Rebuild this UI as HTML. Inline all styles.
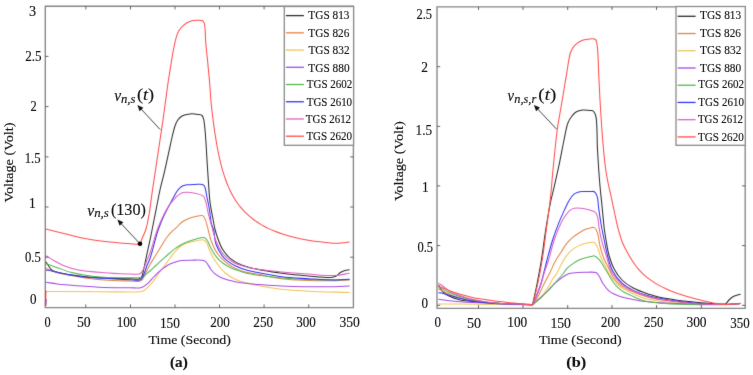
<!DOCTYPE html>
<html><head><meta charset="utf-8"><style>
html,body{margin:0;padding:0;background:#fff;}
svg{display:block;}
text{font-family:"Liberation Serif",serif;fill:#111;stroke:#111;stroke-width:0.15px;}
</style></head><body>
<svg width="753" height="375" viewBox="0 0 753 375">
<defs><filter id="bl" x="0" y="0" width="753" height="375" filterUnits="userSpaceOnUse" color-interpolation-filters="sRGB"><feConvolveMatrix order="3" kernelMatrix="0.01000 0.08000 0.01000 0.08000 0.64000 0.08000 0.01000 0.08000 0.01000" divisor="1" edgeMode="duplicate"/></filter><filter id="bt" x="0" y="0" width="753" height="375" filterUnits="userSpaceOnUse" color-interpolation-filters="sRGB"><feConvolveMatrix order="3" kernelMatrix="0.00160 0.03680 0.00160 0.03680 0.84640 0.03680 0.00160 0.03680 0.00160" divisor="1" edgeMode="duplicate"/></filter></defs>
<rect width="753" height="375" fill="#fff"/>
<g filter="url(#bl)">
<g fill="none" stroke-width="1.05" stroke-linejoin="round" stroke-linecap="round">
<path d="M46.00,262.10 C47.10,263.73 48.22,265.55 49.30,267.00 C50.22,268.23 50.57,269.36 52.00,270.30 C54.45,271.91 59.45,272.74 64.00,273.70 C69.78,274.92 77.32,275.78 84.00,276.50 C90.66,277.21 96.89,277.62 104.00,278.00 C112.09,278.43 123.58,278.63 130.00,278.80 C133.78,278.90 137.00,279.68 139.00,279.00 C140.19,278.60 140.79,278.07 141.50,277.00 C142.71,275.17 143.20,271.29 144.00,268.00 C144.95,264.08 145.74,259.47 146.70,255.00 C147.73,250.22 148.88,245.52 150.00,240.20 C151.31,234.00 152.76,226.23 154.00,220.00 C155.07,214.63 155.98,210.08 157.00,205.00 C158.05,199.75 159.01,194.34 160.20,189.00 C161.41,183.60 162.84,178.60 164.20,172.80 C165.77,166.13 167.59,157.58 169.00,151.20 C170.12,146.12 170.96,141.86 172.00,137.50 C172.96,133.49 173.90,129.10 175.00,126.00 C175.78,123.79 176.36,122.15 177.50,120.50 C178.67,118.81 180.11,117.09 182.00,116.00 C184.16,114.76 187.31,114.16 190.00,113.90 C192.65,113.64 195.81,114.03 198.00,114.40 C199.58,114.66 201.07,114.69 202.00,115.50 C202.92,116.30 203.15,117.55 203.60,119.20 C204.40,122.15 204.72,126.90 205.20,132.00 C205.91,139.52 206.45,151.45 207.00,160.00 C207.47,167.23 207.81,173.18 208.30,180.00 C208.81,187.16 209.15,195.27 210.00,202.00 C210.73,207.78 211.87,213.05 212.80,218.00 C213.60,222.29 214.30,226.45 215.20,230.00 C215.93,232.90 216.57,235.00 217.60,237.80 C218.86,241.23 220.29,245.55 222.40,249.00 C224.54,252.49 227.23,255.95 230.40,258.60 C233.62,261.30 237.59,263.32 241.60,265.00 C245.77,266.75 249.73,267.61 255.00,268.80 C262.34,270.45 272.79,272.10 281.70,273.30 C290.56,274.49 299.65,275.33 308.30,276.00 C316.50,276.64 327.69,277.90 332.30,277.30 C334.23,277.05 335.04,276.72 336.30,276.00 C337.72,275.19 338.83,273.42 340.30,272.50 C341.74,271.60 343.44,270.95 345.00,270.50 C346.44,270.08 347.87,270.03 349.30,269.80" stroke="#2e2e2e"/>
<path d="M46.00,268.30 C48.00,269.20 49.62,270.14 52.00,271.00 C55.28,272.18 59.46,273.29 64.00,274.30 C69.79,275.59 77.32,276.75 84.00,277.70 C90.65,278.65 96.89,279.45 104.00,280.00 C112.09,280.62 123.47,280.81 130.00,281.00 C133.95,281.12 137.27,281.76 139.50,281.20 C140.84,280.86 141.59,280.46 142.50,279.50 C143.87,278.06 144.79,274.91 146.00,272.50 C147.29,269.92 148.47,267.24 150.00,264.50 C151.72,261.43 154.05,258.04 155.90,255.00 C157.59,252.23 159.05,249.70 160.70,247.00 C162.41,244.20 164.14,241.08 166.00,238.50 C167.69,236.15 169.45,234.02 171.30,232.10 C173.03,230.31 174.93,228.97 176.70,227.30 C178.50,225.60 179.91,223.51 182.00,222.00 C184.28,220.36 187.28,219.01 190.00,218.00 C192.61,217.03 195.66,216.39 198.00,216.00 C199.79,215.70 201.59,215.00 202.80,215.60 C203.97,216.18 204.49,217.84 205.20,219.40 C206.17,221.52 206.75,224.37 207.60,227.40 C208.71,231.33 209.54,236.62 211.20,241.00 C212.87,245.42 214.88,250.03 217.60,253.80 C220.25,257.47 223.56,260.64 227.20,263.40 C230.99,266.27 235.10,268.78 240.00,270.60 C245.78,272.74 253.19,273.28 260.00,274.60 C267.08,275.98 272.82,277.69 281.70,278.70 C295.50,280.27 322.88,280.90 335.00,280.80 C341.28,280.75 344.53,280.27 349.30,280.00" stroke="#e48446"/>
<path d="M46.00,291.50 C64.00,291.57 83.40,291.65 100.00,291.70 C114.19,291.74 133.48,292.47 139.50,291.80 C141.32,291.60 142.00,291.42 143.00,291.00 C143.85,290.64 144.30,290.32 145.20,289.60 C146.97,288.18 150.11,285.12 152.40,282.40 C154.94,279.39 157.34,275.26 159.60,272.20 C161.50,269.63 163.23,267.59 165.00,265.20 C166.80,262.76 168.49,260.13 170.30,257.70 C172.06,255.33 173.82,252.82 175.70,250.80 C177.40,248.97 179.14,247.28 181.00,246.00 C182.69,244.83 184.17,244.09 186.30,243.30 C189.20,242.23 193.85,241.25 197.00,240.70 C199.45,240.27 201.91,239.42 203.60,240.00 C204.96,240.47 205.82,241.68 206.70,243.00 C207.83,244.70 208.28,247.39 209.30,249.70 C210.44,252.27 211.77,255.08 213.30,257.70 C214.89,260.42 216.71,263.16 218.70,265.70 C220.71,268.26 222.74,270.84 225.30,273.00 C228.03,275.30 231.73,277.52 234.70,279.00 C237.11,280.21 238.89,280.75 241.60,281.60 C245.31,282.76 249.74,283.91 255.00,285.00 C262.35,286.52 272.79,288.27 281.70,289.30 C290.55,290.33 298.47,290.69 308.30,291.20 C320.49,291.83 335.63,292.07 349.30,292.50" stroke="#f2c35a"/>
<path d="M46.00,282.30 C49.77,282.83 52.99,283.40 57.30,283.90 C63.01,284.56 70.15,285.15 77.30,285.70 C85.55,286.33 95.15,287.05 104.00,287.40 C112.72,287.74 123.06,287.87 130.00,287.80 C134.64,287.76 138.47,288.37 141.60,287.40 C144.05,286.64 145.62,285.25 147.60,283.60 C150.02,281.58 152.35,278.24 154.80,275.80 C157.15,273.46 159.65,271.09 162.00,269.20 C164.04,267.57 165.80,266.18 168.00,265.00 C170.34,263.75 173.35,262.76 175.70,262.00 C177.61,261.38 178.91,260.91 181.00,260.60 C183.93,260.16 188.14,260.25 191.70,260.20 C195.24,260.15 199.82,259.87 202.30,260.30 C203.70,260.54 204.65,260.80 205.50,261.40 C206.29,261.96 206.63,262.76 207.30,263.70 C208.28,265.09 209.46,267.33 210.70,269.00 C211.93,270.66 213.07,272.31 214.70,273.70 C216.53,275.25 218.93,276.61 221.30,277.70 C223.78,278.84 226.85,279.60 229.30,280.30 C231.35,280.88 232.70,281.25 235.00,281.70 C238.44,282.37 243.75,283.11 248.00,283.60 C252.07,284.07 255.41,284.27 260.00,284.60 C266.17,285.04 272.86,285.57 281.70,285.90 C295.54,286.42 322.88,286.91 335.00,286.70 C341.28,286.59 344.53,286.23 349.30,286.00" stroke="#a64ae2"/>
<path d="M46.00,263.70 C49.77,265.03 53.37,266.33 57.30,267.70 C61.57,269.19 66.20,271.08 70.70,272.30 C75.10,273.50 79.10,274.22 84.00,275.00 C89.97,275.95 96.88,276.82 104.00,277.30 C112.09,277.84 123.58,277.77 130.00,277.80 C133.78,277.82 136.65,277.99 139.00,277.70 C140.55,277.51 141.42,277.48 142.80,276.80 C144.93,275.76 147.71,272.99 150.00,271.00 C152.23,269.06 154.10,267.12 156.40,265.00 C159.05,262.56 161.95,259.88 165.00,257.20 C168.35,254.26 172.01,250.64 175.70,248.10 C179.12,245.74 182.69,243.88 186.30,242.30 C189.79,240.77 193.86,239.52 197.00,238.70 C199.38,238.08 201.86,237.36 203.40,237.50 C204.30,237.58 204.86,237.83 205.50,238.30 C206.29,238.88 206.90,239.85 207.60,241.00 C208.63,242.69 209.45,245.37 210.70,247.70 C212.17,250.43 213.96,253.72 216.00,256.30 C217.98,258.80 220.23,261.09 222.70,263.00 C225.14,264.89 228.41,266.58 230.70,267.70 C232.32,268.49 233.17,268.75 235.00,269.40 C238.15,270.52 243.72,272.46 248.00,273.50 C252.05,274.49 255.40,274.95 260.00,275.60 C266.16,276.46 272.86,277.26 281.70,277.90 C295.53,278.90 322.87,279.97 335.00,280.00 C341.28,280.01 344.53,279.67 349.30,279.50" stroke="#52b852"/>
<path d="M46.00,270.00 C48.00,270.33 49.66,270.54 52.00,271.00 C55.32,271.65 59.48,272.82 64.00,273.70 C69.81,274.83 77.31,276.23 84.00,277.00 C90.65,277.76 96.90,277.86 104.00,278.30 C112.10,278.80 123.82,279.43 130.00,279.80 C133.43,280.01 135.99,280.50 138.00,280.30 C139.25,280.18 140.12,280.19 141.00,279.50 C142.25,278.52 143.08,276.07 144.00,274.00 C145.11,271.51 145.95,268.18 147.00,265.50 C147.96,263.04 148.89,261.63 150.00,258.50 C152.11,252.55 155.18,239.07 157.50,232.00 C159.08,227.18 160.47,223.63 162.00,220.00 C163.31,216.89 164.63,214.23 166.00,211.50 C167.30,208.90 168.67,206.50 170.00,204.00 C171.33,201.50 172.75,198.78 174.00,196.50 C175.06,194.57 175.91,192.72 177.00,191.20 C177.94,189.89 178.94,188.73 180.00,187.80 C180.95,186.97 181.88,186.30 183.00,185.80 C184.20,185.27 185.42,185.03 187.00,184.80 C189.20,184.47 192.40,184.46 195.00,184.40 C197.46,184.34 200.59,183.89 202.20,184.40 C203.14,184.69 203.68,185.13 204.20,185.80 C204.81,186.59 205.02,187.66 205.40,189.00 C205.99,191.12 206.45,194.67 207.00,197.40 C207.52,200.00 208.13,202.51 208.60,205.00 C209.05,207.38 209.41,209.41 209.80,212.00 C210.28,215.21 210.47,219.60 211.20,222.80 C211.81,225.48 212.89,227.16 213.60,230.00 C214.57,233.91 214.35,239.66 216.00,244.20 C217.73,248.95 220.65,254.13 224.00,257.80 C227.13,261.22 231.19,263.66 235.20,265.80 C239.19,267.93 243.75,269.39 248.00,270.60 C252.02,271.75 255.41,272.14 260.00,273.00 C266.16,274.16 274.07,275.86 281.70,276.80 C290.09,277.83 299.42,278.17 308.30,278.70 C317.19,279.23 327.48,280.03 335.00,280.00 C340.51,279.98 344.53,279.47 349.30,279.20" stroke="#3434f6"/>
<path d="M46.50,256.00 C49.23,257.67 51.85,259.41 54.70,261.00 C57.67,262.65 60.56,264.32 64.00,265.70 C67.98,267.29 72.04,268.62 77.30,269.70 C84.61,271.20 95.15,271.98 104.00,272.70 C112.71,273.41 123.81,273.77 130.00,274.00 C133.43,274.13 136.00,274.56 138.00,274.20 C139.27,273.97 140.11,273.76 141.00,273.00 C142.20,271.98 143.08,269.91 144.00,268.00 C145.12,265.69 145.97,262.57 147.00,260.00 C147.97,257.58 148.88,256.03 150.00,253.00 C151.97,247.66 154.72,236.79 157.00,230.50 C158.69,225.83 160.37,222.07 162.00,218.50 C163.36,215.54 164.61,213.00 166.00,210.50 C167.28,208.19 168.58,205.91 170.00,204.00 C171.26,202.30 172.76,200.88 174.00,199.50 C175.07,198.31 176.07,197.07 177.00,196.20 C177.71,195.54 178.19,195.12 179.00,194.60 C180.08,193.91 181.63,193.00 183.00,192.60 C184.30,192.22 185.44,192.18 187.00,192.20 C189.21,192.23 192.43,192.65 195.00,193.20 C197.49,193.73 200.66,194.53 202.20,195.40 C203.07,195.89 203.50,196.28 204.00,197.00 C204.63,197.91 204.98,199.33 205.40,200.60 C205.86,201.98 206.20,203.30 206.60,205.00 C207.14,207.30 207.52,210.27 208.20,213.20 C209.00,216.66 210.06,220.31 211.20,224.40 C212.59,229.40 213.97,236.01 216.00,241.00 C217.80,245.43 219.69,249.51 222.40,253.00 C225.05,256.42 228.11,259.47 232.00,261.80 C236.44,264.46 243.00,266.10 248.00,267.40 C252.24,268.50 255.40,268.83 260.00,269.50 C266.16,270.39 274.09,271.26 281.70,272.00 C290.11,272.82 299.42,273.52 308.30,274.10 C317.19,274.68 327.49,275.88 335.00,275.50 C340.52,275.22 344.53,274.03 349.30,273.30" stroke="#e060c0"/>
<path d="M45.90,229.00 C52.57,230.67 59.08,232.35 65.90,234.00 C73.03,235.72 80.47,237.76 87.80,239.10 C95.07,240.42 102.53,241.23 109.70,242.00 C116.59,242.74 124.88,243.32 130.00,243.70 C133.11,243.93 135.67,244.28 137.50,244.20 C138.56,244.15 139.17,243.93 140.00,243.80 C141.00,241.37 142.01,238.95 143.00,236.50 C144.01,234.02 145.09,232.02 146.00,229.00 C147.29,224.71 148.32,218.71 149.30,213.00 C150.42,206.49 151.16,199.23 152.20,192.00 C153.31,184.26 154.60,176.00 155.80,168.00 C157.00,160.00 158.20,152.00 159.40,144.00 C160.60,136.00 161.91,127.64 163.00,120.00 C163.99,113.03 164.81,106.58 165.70,100.00 C166.57,93.59 167.61,85.55 168.30,81.00 C168.69,78.44 168.92,77.34 169.30,75.00 C169.84,71.69 170.56,66.94 171.20,63.00 C171.82,59.18 172.36,55.60 173.10,51.70 C173.90,47.49 174.81,42.33 175.90,38.60 C176.74,35.72 177.34,33.40 178.70,31.10 C180.11,28.72 182.28,26.27 184.30,24.60 C186.05,23.16 187.83,22.12 189.90,21.40 C192.13,20.63 195.04,20.36 197.30,20.30 C199.21,20.25 201.40,20.06 202.60,20.80 C203.56,21.40 203.92,22.23 204.40,23.70 C205.51,27.14 205.17,36.10 205.70,42.30 C206.23,48.53 207.04,55.22 207.60,61.00 C208.09,66.00 208.53,71.13 208.90,75.00 C209.16,77.73 209.35,79.07 209.60,82.00 C210.02,86.90 210.48,95.97 211.00,101.70 C211.40,106.14 211.84,109.63 212.30,113.50 C212.74,117.26 213.18,120.81 213.70,124.60 C214.24,128.60 214.84,132.78 215.50,136.90 C216.17,141.08 216.96,145.65 217.70,149.50 C218.33,152.79 218.93,155.65 219.60,158.60 C220.24,161.41 220.90,164.19 221.60,166.80 C222.24,169.21 222.91,171.49 223.60,173.70 C224.25,175.78 224.88,177.69 225.60,179.70 C226.34,181.76 227.17,183.93 228.00,185.90 C228.78,187.75 229.52,189.41 230.40,191.20 C231.34,193.10 232.41,195.14 233.50,197.00 C234.55,198.80 235.63,200.52 236.80,202.20 C237.97,203.88 239.18,205.50 240.50,207.10 C241.85,208.74 243.36,210.42 244.80,211.90 C246.13,213.27 247.45,214.50 248.80,215.70 C250.11,216.86 251.47,217.99 252.80,219.00 C254.04,219.94 255.28,220.77 256.50,221.60 C257.68,222.40 258.78,223.15 260.00,223.90 C261.28,224.69 262.63,225.46 264.00,226.20 C265.40,226.96 266.69,227.64 268.30,228.40 C270.27,229.33 272.75,230.40 275.00,231.30 C277.22,232.19 279.33,233.00 281.70,233.80 C284.31,234.68 287.17,235.54 290.00,236.30 C292.93,237.08 295.97,237.75 299.00,238.40 C302.07,239.05 305.25,239.68 308.30,240.20 C311.24,240.70 314.07,241.12 317.00,241.50 C319.97,241.89 323.19,242.20 326.00,242.50 C328.48,242.76 330.75,243.09 333.00,243.20 C335.07,243.30 337.09,243.30 339.00,243.20 C340.74,243.11 342.31,242.90 344.00,242.70 C345.74,242.50 347.53,242.23 349.30,242.00" stroke="#ff4c4c"/>
<path d="M438.70,285.30 C439.33,286.53 439.77,287.78 440.60,289.00 C441.57,290.42 442.89,292.03 444.30,293.20 C445.69,294.36 447.12,295.11 449.00,296.00 C451.53,297.20 455.15,298.55 458.30,299.40 C461.39,300.24 463.73,300.60 467.70,301.10 C474.41,301.94 486.60,302.50 495.00,303.00 C502.18,303.43 508.55,303.71 515.00,304.00 C521.05,304.27 526.73,304.47 532.60,304.70 C534.07,297.80 535.58,291.17 537.00,284.00 C538.52,276.31 540.00,268.59 541.40,260.00 C543.02,250.11 544.34,238.30 546.00,228.00 C547.56,218.34 549.91,205.11 551.00,200.00 C551.42,198.05 551.53,197.95 552.00,196.00 C553.26,190.73 556.66,176.25 558.70,166.70 C560.64,157.61 562.30,147.93 564.00,140.00 C565.38,133.60 566.26,127.02 568.00,122.70 C569.15,119.83 570.54,117.87 572.00,116.00 C573.24,114.41 574.34,112.97 576.00,112.00 C577.84,110.92 580.40,110.36 582.70,110.10 C585.06,109.84 588.05,110.24 590.00,110.50 C591.32,110.68 592.40,110.51 593.30,111.20 C594.45,112.07 595.14,113.57 595.80,116.00 C597.46,122.10 596.82,138.59 597.50,150.00 C598.19,161.59 599.04,174.85 599.90,185.00 C600.56,192.84 601.28,198.62 602.00,205.80 C602.78,213.51 603.59,223.49 604.40,229.80 C604.93,233.93 605.33,236.23 606.00,240.00 C606.85,244.74 607.78,251.02 609.20,256.00 C610.50,260.56 611.87,264.81 614.00,268.80 C616.14,272.81 618.80,276.80 622.00,280.00 C625.20,283.20 628.93,285.68 633.20,288.00 C638.09,290.66 645.13,292.97 650.00,294.60 C653.64,295.82 656.11,296.51 659.70,297.30 C664.05,298.26 669.42,299.00 674.30,299.70 C679.18,300.40 684.10,300.97 689.00,301.50 C693.90,302.03 698.81,302.50 703.70,302.90 C708.57,303.30 714.27,303.71 718.30,303.90 C721.15,304.04 723.17,304.03 725.60,304.10 C727.07,302.40 728.43,300.38 730.00,299.00 C731.39,297.78 732.76,296.87 734.40,296.10 C736.17,295.27 738.33,294.90 740.30,294.30" stroke="#2e2e2e"/>
<path d="M438.70,289.00 C440.57,289.93 442.18,290.80 444.30,291.80 C447.02,293.09 450.07,294.76 453.70,296.00 C458.33,297.59 463.95,298.90 470.00,300.00 C477.41,301.35 485.80,302.24 495.00,303.00 C506.24,303.93 520.07,304.13 532.60,304.70 C534.07,302.63 535.46,301.11 537.00,298.50 C539.32,294.57 542.16,287.65 544.50,283.00 C546.44,279.14 548.25,276.04 550.00,272.50 C551.75,268.97 553.14,265.22 555.00,261.80 C556.82,258.46 558.98,255.33 561.00,252.20 C562.98,249.14 564.86,245.81 567.00,243.20 C568.89,240.89 570.92,238.94 573.00,237.20 C574.93,235.58 576.97,234.28 579.00,233.00 C580.97,231.76 583.05,230.45 585.00,229.60 C586.70,228.85 588.37,228.33 590.00,228.00 C591.50,227.70 593.20,226.97 594.40,227.60 C595.85,228.36 596.74,230.86 597.60,233.20 C598.82,236.52 598.94,241.76 600.00,246.00 C601.07,250.30 602.55,255.19 604.00,258.80 C605.13,261.60 606.53,263.81 607.60,266.00 C608.49,267.81 609.11,269.20 610.00,271.00 C611.07,273.14 611.92,275.69 613.60,278.00 C615.67,280.84 619.06,284.24 622.00,286.40 C624.56,288.29 626.67,289.13 630.00,290.60 C635.11,292.85 642.11,295.88 650.00,297.80 C660.73,300.42 676.24,301.89 689.00,303.00 C701.22,304.07 715.53,304.64 725.00,304.50 C731.18,304.41 735.20,303.77 740.30,303.40" stroke="#e48446"/>
<path d="M438.70,303.90 C457.47,304.07 478.12,304.26 495.00,304.40 C508.79,304.52 520.07,304.60 532.60,304.70 C534.40,303.13 536.24,301.72 538.00,300.00 C539.88,298.17 541.74,296.21 543.50,294.00 C545.42,291.59 547.45,288.63 549.00,286.00 C550.39,283.64 551.20,281.03 552.50,279.00 C553.63,277.24 554.99,276.29 556.20,274.40 C557.84,271.85 559.23,267.96 561.00,264.80 C562.82,261.56 564.83,257.92 567.00,255.20 C568.88,252.84 570.89,250.84 573.00,249.20 C574.91,247.71 576.95,246.58 579.00,245.60 C580.96,244.66 582.97,243.94 585.00,243.40 C586.98,242.88 589.28,242.52 591.00,242.40 C592.29,242.31 593.41,241.93 594.40,242.50 C595.72,243.25 596.64,245.57 597.60,247.60 C598.85,250.24 599.54,254.21 600.80,257.20 C601.97,259.98 603.48,262.36 604.80,265.00 C606.15,267.69 607.46,270.87 608.80,273.20 C609.86,275.05 610.98,276.73 612.00,278.00 C612.76,278.95 613.34,279.37 614.20,280.30 C615.46,281.67 617.15,284.00 618.80,285.50 C620.36,286.91 622.00,288.00 623.80,289.10 C625.72,290.28 627.54,291.12 630.00,292.30 C633.52,293.99 638.28,296.64 643.00,298.10 C648.20,299.71 653.56,300.34 660.00,301.20 C668.36,302.32 678.80,303.15 689.00,303.70 C700.34,304.31 715.53,304.67 725.00,304.50 C731.18,304.39 735.20,303.90 740.30,303.60" stroke="#f2c35a"/>
<path d="M438.70,299.30 C442.13,299.77 445.30,300.26 449.00,300.70 C453.31,301.21 457.38,301.70 463.00,302.10 C471.49,302.71 483.90,303.08 495.00,303.50 C507.03,303.95 520.07,304.30 532.60,304.70 C535.40,302.30 538.37,299.93 541.00,297.50 C543.49,295.20 545.85,292.75 548.00,290.50 C549.91,288.50 551.35,286.53 553.30,284.70 C555.34,282.79 557.71,281.02 560.00,279.30 C562.28,277.59 564.65,275.45 567.00,274.40 C568.99,273.51 570.64,273.34 573.00,273.00 C576.30,272.52 581.10,272.36 585.00,272.30 C588.69,272.24 593.49,271.69 595.80,272.60 C597.13,273.13 597.60,273.85 598.50,275.00 C599.94,276.84 601.08,280.56 602.80,283.20 C604.61,285.97 606.58,289.08 609.20,291.20 C611.89,293.37 615.29,294.70 618.80,296.00 C622.69,297.44 626.92,298.26 631.60,299.20 C637.15,300.31 642.71,301.26 650.00,302.00 C660.57,303.07 676.26,303.58 689.00,304.00 C701.24,304.40 715.53,304.71 725.00,304.50 C731.18,304.36 735.20,303.90 740.30,303.60" stroke="#a64ae2"/>
<path d="M438.70,287.10 C442.13,288.83 445.62,290.78 449.00,292.30 C452.15,293.72 454.71,294.81 458.30,296.00 C463.02,297.57 469.14,299.35 475.00,300.50 C481.33,301.74 487.27,302.34 495.00,303.00 C505.56,303.90 520.07,304.13 532.60,304.70 C535.40,302.23 538.33,299.67 541.00,297.30 C543.45,295.12 545.88,293.14 548.00,291.00 C549.95,289.03 551.59,286.96 553.30,285.00 C554.92,283.13 556.46,281.23 558.00,279.50 C559.42,277.91 560.80,276.69 562.20,275.00 C563.81,273.05 565.17,270.32 567.00,268.40 C568.78,266.54 570.95,265.02 573.00,263.60 C574.96,262.24 576.95,260.96 579.00,260.00 C580.95,259.08 582.98,258.49 585.00,257.90 C586.98,257.32 589.28,256.85 591.00,256.50 C592.29,256.24 593.28,255.64 594.40,255.90 C595.75,256.21 597.27,257.73 598.40,258.80 C599.43,259.78 600.19,260.84 601.00,262.00 C601.86,263.23 602.47,264.45 603.40,266.00 C604.71,268.17 606.57,271.25 608.10,273.80 C609.57,276.25 610.80,278.73 612.40,281.00 C614.00,283.26 615.73,285.52 617.70,287.40 C619.64,289.24 621.94,290.92 624.10,292.20 C626.05,293.36 627.64,293.84 630.00,294.90 C633.48,296.46 638.28,299.22 643.00,300.60 C648.20,302.12 653.56,302.66 660.00,303.30 C668.36,304.13 678.81,304.29 689.00,304.50 C700.35,304.73 715.53,304.78 725.00,304.50 C731.18,304.32 735.20,303.90 740.30,303.60" stroke="#52b852"/>
<path d="M438.70,292.70 C439.97,292.87 441.08,292.90 442.50,293.20 C444.39,293.60 446.64,294.40 449.00,295.10 C451.82,295.94 454.87,296.99 458.30,297.90 C462.47,299.00 467.04,300.22 472.30,301.10 C478.93,302.20 486.47,302.91 495.00,303.50 C505.95,304.25 520.07,304.30 532.60,304.70 C533.73,302.13 534.83,299.87 536.00,297.00 C537.44,293.46 539.18,289.11 540.50,285.00 C541.85,280.78 542.90,276.25 544.00,272.00 C545.06,267.92 545.81,264.50 547.00,260.00 C548.54,254.17 550.54,246.42 552.60,240.00 C554.56,233.91 556.85,227.77 559.00,222.40 C560.86,217.76 562.76,213.54 564.60,209.60 C566.22,206.15 567.67,202.72 569.40,200.00 C570.84,197.74 572.36,195.53 574.00,194.20 C575.27,193.17 576.60,192.65 578.00,192.20 C579.40,191.75 580.73,191.63 582.40,191.50 C584.58,191.33 587.81,191.45 590.00,191.50 C591.67,191.54 593.24,191.01 594.40,191.70 C595.67,192.46 596.43,194.28 597.10,196.20 C598.09,199.02 598.02,203.25 598.60,207.40 C599.33,212.61 600.21,219.29 601.20,225.00 C602.15,230.47 603.32,235.76 604.40,241.00 C605.45,246.08 606.26,251.09 607.60,256.00 C608.93,260.89 610.05,265.92 612.40,270.40 C614.81,275.00 618.33,279.79 622.00,283.20 C625.34,286.31 628.95,288.34 633.20,290.40 C638.11,292.78 643.15,294.47 650.00,296.20 C660.22,298.78 676.22,301.22 689.00,302.60 C701.20,303.92 715.53,304.59 725.00,304.50 C731.18,304.44 735.20,303.77 740.30,303.40" stroke="#3434f6"/>
<path d="M438.70,283.40 C440.57,284.63 442.54,285.81 444.30,287.10 C445.97,288.32 447.08,289.72 449.00,290.90 C451.50,292.44 454.84,293.80 458.30,295.10 C462.45,296.65 467.03,298.08 472.30,299.30 C478.91,300.82 486.45,302.11 495.00,303.00 C505.93,304.13 520.07,304.13 532.60,304.70 C533.73,302.30 534.83,300.20 536.00,297.50 C537.45,294.14 539.13,290.06 540.50,286.00 C541.99,281.60 543.10,276.47 544.50,272.00 C545.81,267.83 547.19,264.53 548.60,260.00 C550.40,254.20 552.08,246.24 554.20,240.00 C556.13,234.31 558.56,228.28 560.60,224.00 C562.04,220.98 563.24,218.79 564.80,216.50 C566.26,214.35 567.83,212.02 569.60,210.60 C571.08,209.41 572.63,208.62 574.40,208.20 C576.33,207.74 578.56,207.98 580.80,208.20 C583.33,208.45 586.31,209.09 588.80,209.80 C591.08,210.45 593.72,210.87 595.20,212.20 C596.51,213.38 597.00,215.07 597.60,217.00 C598.40,219.60 598.34,223.16 598.90,226.60 C599.56,230.64 600.25,235.03 601.40,239.70 C602.76,245.23 605.01,251.97 606.80,257.60 C608.41,262.67 609.14,267.58 611.60,272.00 C614.15,276.57 618.15,281.25 622.00,284.50 C625.43,287.40 628.99,289.05 633.20,291.00 C638.14,293.29 643.14,295.26 650.00,297.00 C660.21,299.58 676.23,301.76 689.00,303.00 C701.21,304.19 715.53,304.64 725.00,304.50 C731.18,304.41 735.20,303.77 740.30,303.40" stroke="#e060c0"/>
<path d="M438.70,286.20 C440.57,286.97 442.19,287.64 444.30,288.50 C447.03,289.61 450.55,291.19 453.70,292.30 C456.78,293.38 459.89,294.25 463.00,295.10 C466.09,295.95 469.18,296.73 472.30,297.40 C475.41,298.07 478.29,298.54 481.70,299.10 C485.75,299.77 490.43,300.50 495.00,301.10 C499.84,301.74 504.49,302.26 510.00,302.80 C516.76,303.47 525.07,304.07 532.60,304.70 C534.23,298.13 535.98,291.98 537.50,285.00 C539.20,277.19 540.77,268.87 542.20,260.00 C543.81,250.01 545.13,238.31 546.50,228.00 C547.79,218.36 549.10,209.75 550.20,200.00 C551.39,189.39 552.16,178.12 553.30,166.70 C554.51,154.59 555.95,139.20 557.30,129.30 C558.19,122.74 559.09,118.38 560.00,113.00 C560.89,107.72 561.72,103.09 562.70,97.30 C563.91,90.15 565.33,81.05 566.70,73.30 C568.00,65.98 568.81,56.99 570.70,52.00 C571.83,49.01 572.95,47.16 574.70,45.30 C576.47,43.42 578.99,41.82 581.30,40.80 C583.44,39.85 585.69,39.43 588.00,39.20 C590.41,38.96 593.95,38.24 595.50,39.50 C597.04,40.75 596.82,43.51 597.30,46.70 C598.21,52.74 598.25,64.42 598.70,73.30 C599.15,82.19 599.43,90.21 600.00,100.00 C600.70,111.99 601.68,127.86 602.70,140.00 C603.55,150.17 604.37,159.84 605.50,168.00 C606.38,174.39 607.48,179.96 608.50,185.00 C609.32,189.08 610.12,191.99 611.00,196.00 C612.06,200.83 613.24,206.65 614.40,212.00 C615.57,217.39 616.62,222.99 618.00,228.20 C619.31,233.14 621.00,238.89 622.40,242.50 C623.29,244.80 624.07,246.18 625.00,248.00 C625.94,249.85 626.99,251.69 628.00,253.50 C628.99,255.29 629.89,257.00 631.00,258.80 C632.21,260.76 633.58,262.88 635.00,264.80 C636.41,266.71 637.96,268.59 639.50,270.30 C640.96,271.91 642.42,273.37 644.00,274.80 C645.59,276.24 647.31,277.62 649.00,278.90 C650.64,280.15 652.23,281.27 654.00,282.40 C655.89,283.61 657.98,284.82 660.00,285.90 C661.98,286.95 663.91,287.85 666.00,288.80 C668.23,289.82 670.65,290.88 673.00,291.80 C675.32,292.71 677.58,293.49 680.00,294.30 C682.57,295.16 685.33,296.01 688.00,296.80 C690.66,297.58 693.33,298.30 696.00,299.00 C698.66,299.70 701.33,300.38 704.00,301.00 C706.66,301.62 709.47,302.20 712.00,302.70 C714.28,303.15 716.34,303.58 718.50,303.90 C720.64,304.21 722.71,304.54 724.90,304.60 C727.20,304.66 729.54,304.39 732.00,304.20 C734.66,304.00 737.53,303.67 740.30,303.40" stroke="#ff4c4c"/>
</g>
<path d="M45.3,6.2 H353.4 V307.6 H45.3 Z" fill="none" stroke="#858585" stroke-width="1.35"/>
<path d="M85.8,307.6 v-3.2 M85.8,6.2 v3.2" stroke="#555" stroke-width="0.9"/>
<path d="M130.5,307.6 v-3.2 M130.5,6.2 v3.2" stroke="#555" stroke-width="0.9"/>
<path d="M175.0,307.6 v-3.2 M175.0,6.2 v3.2" stroke="#555" stroke-width="0.9"/>
<path d="M219.5,307.6 v-3.2 M219.5,6.2 v3.2" stroke="#555" stroke-width="0.9"/>
<path d="M264.1,307.6 v-3.2 M264.1,6.2 v3.2" stroke="#555" stroke-width="0.9"/>
<path d="M308.7,307.6 v-3.2 M308.7,6.2 v3.2" stroke="#555" stroke-width="0.9"/>
<path d="M45.3,257.2 h3.2 M353.4,257.2 h-3.2" stroke="#555" stroke-width="0.9"/>
<path d="M45.3,207.0 h3.2 M353.4,207.0 h-3.2" stroke="#555" stroke-width="0.9"/>
<path d="M45.3,156.9 h3.2 M353.4,156.9 h-3.2" stroke="#555" stroke-width="0.9"/>
<path d="M45.3,106.6 h3.2 M353.4,106.6 h-3.2" stroke="#555" stroke-width="0.9"/>
<path d="M45.3,56.4 h3.2 M353.4,56.4 h-3.2" stroke="#555" stroke-width="0.9"/>
<path d="M437.0,6.8 H745.2 V308.3 H437.0 Z" fill="none" stroke="#858585" stroke-width="1.35"/>
<path d="M478.5,308.3 v-3.2 M478.5,6.8 v3.2" stroke="#555" stroke-width="0.9"/>
<path d="M523.0,308.3 v-3.2 M523.0,6.8 v3.2" stroke="#555" stroke-width="0.9"/>
<path d="M567.7,308.3 v-3.2 M567.7,6.8 v3.2" stroke="#555" stroke-width="0.9"/>
<path d="M612.0,308.3 v-3.2 M612.0,6.8 v3.2" stroke="#555" stroke-width="0.9"/>
<path d="M656.5,308.3 v-3.2 M656.5,6.8 v3.2" stroke="#555" stroke-width="0.9"/>
<path d="M701.3,308.3 v-3.2 M701.3,6.8 v3.2" stroke="#555" stroke-width="0.9"/>
<path d="M437.0,305.3 h3.2 M745.2,305.3 h-3.2" stroke="#555" stroke-width="0.9"/>
<path d="M437.0,245.6 h3.2 M745.2,245.6 h-3.2" stroke="#555" stroke-width="0.9"/>
<path d="M437.0,185.9 h3.2 M745.2,185.9 h-3.2" stroke="#555" stroke-width="0.9"/>
<path d="M437.0,126.4 h3.2 M745.2,126.4 h-3.2" stroke="#555" stroke-width="0.9"/>
<path d="M437.0,66.7 h3.2 M745.2,66.7 h-3.2" stroke="#555" stroke-width="0.9"/>

<line x1="46.3" y1="299" x2="46.0" y2="305.8" stroke="#5a3cf0" stroke-width="0.8"/>
<line x1="45.8" y1="290.8" x2="45.5" y2="305.5" stroke="#ff3030" stroke-width="1.2"/>

<rect x="284.3" y="6.5" width="69.3" height="138.8" fill="#fff" stroke="#8a8a8a" stroke-width="1.3"/>
<line x1="285.9" y1="15.60" x2="303.9" y2="15.60" stroke="#2e2e2e" stroke-width="1.3"/>
<line x1="285.9" y1="32.83" x2="303.9" y2="32.83" stroke="#e48446" stroke-width="1.3"/>
<line x1="285.9" y1="50.06" x2="303.9" y2="50.06" stroke="#f2c35a" stroke-width="1.3"/>
<line x1="285.9" y1="67.29" x2="303.9" y2="67.29" stroke="#a64ae2" stroke-width="1.3"/>
<line x1="285.9" y1="84.52" x2="303.9" y2="84.52" stroke="#52b852" stroke-width="1.3"/>
<line x1="285.9" y1="101.75" x2="303.9" y2="101.75" stroke="#3434f6" stroke-width="1.3"/>
<line x1="285.9" y1="118.98" x2="303.9" y2="118.98" stroke="#e060c0" stroke-width="1.3"/>
<line x1="285.9" y1="136.21" x2="303.9" y2="136.21" stroke="#ff4c4c" stroke-width="1.3"/>
<rect x="676.0" y="6.5" width="69.3" height="138.8" fill="#fff" stroke="#8a8a8a" stroke-width="1.3"/>
<line x1="677.6" y1="16.30" x2="695.6" y2="16.30" stroke="#2e2e2e" stroke-width="1.3"/>
<line x1="677.6" y1="33.53" x2="695.6" y2="33.53" stroke="#e48446" stroke-width="1.3"/>
<line x1="677.6" y1="50.76" x2="695.6" y2="50.76" stroke="#f2c35a" stroke-width="1.3"/>
<line x1="677.6" y1="67.99" x2="695.6" y2="67.99" stroke="#a64ae2" stroke-width="1.3"/>
<line x1="677.6" y1="85.22" x2="695.6" y2="85.22" stroke="#52b852" stroke-width="1.3"/>
<line x1="677.6" y1="102.45" x2="695.6" y2="102.45" stroke="#3434f6" stroke-width="1.3"/>
<line x1="677.6" y1="119.68" x2="695.6" y2="119.68" stroke="#e060c0" stroke-width="1.3"/>
<line x1="677.6" y1="136.91" x2="695.6" y2="136.91" stroke="#ff4c4c" stroke-width="1.3"/>
<line x1="140.0" y1="243.8" x2="120.8" y2="223.3" stroke="#222" stroke-width="0.85"/><path d="M117.40,219.60 L123.40,222.21 L119.59,225.76 Z" fill="#111"/>
<circle cx="140.0" cy="243.8" r="2.3" fill="#000"/>
<line x1="160.2" y1="129.6" x2="140.8" y2="108.7" stroke="#222" stroke-width="0.85"/><path d="M137.40,105.00 L143.39,107.63 L139.57,111.17 Z" fill="#111"/>
<line x1="556.6" y1="129.2" x2="537.3" y2="108.6" stroke="#222" stroke-width="0.85"/><path d="M533.90,105.00 L539.90,107.60 L536.11,111.15 Z" fill="#111"/>
</g>
<g filter="url(#bt)">
<text x="29.12" y="15.98" font-size="14" font-weight="normal" font-style="normal" textLength="7.09" lengthAdjust="spacingAndGlyphs">3</text>
<text x="25.26" y="60.90" font-size="14" font-weight="normal" font-style="normal" textLength="16.35" lengthAdjust="spacingAndGlyphs">2.5</text>
<text x="30.38" y="110.58" font-size="14" font-weight="normal" font-style="normal" textLength="6.23" lengthAdjust="spacingAndGlyphs">2</text>
<text x="24.67" y="163.41" font-size="14" font-weight="normal" font-style="normal" textLength="15.85" lengthAdjust="spacingAndGlyphs">1.5</text>
<text x="29.06" y="207.83" font-size="14" font-weight="normal" font-style="normal" textLength="6.65" lengthAdjust="spacingAndGlyphs">1</text>
<text x="25.03" y="262.00" font-size="14" font-weight="normal" font-style="normal" textLength="15.73" lengthAdjust="spacingAndGlyphs">0.5</text>
<text x="30.01" y="303.95" font-size="14" font-weight="normal" font-style="normal" textLength="6.53" lengthAdjust="spacingAndGlyphs">0</text>
<text x="416.54" y="19.38" font-size="14" font-weight="normal" font-style="normal" textLength="15.51" lengthAdjust="spacingAndGlyphs">2.5</text>
<text x="421.19" y="72.25" font-size="14" font-weight="normal" font-style="normal" textLength="6.74" lengthAdjust="spacingAndGlyphs">2</text>
<text x="415.62" y="134.74" font-size="14" font-weight="normal" font-style="normal" textLength="16.47" lengthAdjust="spacingAndGlyphs">1.5</text>
<text x="422.06" y="191.50" font-size="14" font-weight="normal" font-style="normal" textLength="6.65" lengthAdjust="spacingAndGlyphs">1</text>
<text x="417.38" y="251.69" font-size="14" font-weight="normal" font-style="normal" textLength="15.66" lengthAdjust="spacingAndGlyphs">0.5</text>
<text x="421.50" y="307.50" font-size="14" font-weight="normal" font-style="normal" textLength="6.52" lengthAdjust="spacingAndGlyphs">0</text>
<text x="44.41" y="327.45" font-size="14" font-weight="normal" font-style="normal" textLength="6.15" lengthAdjust="spacingAndGlyphs">0</text>
<text x="76.97" y="327.16" font-size="14" font-weight="normal" font-style="normal" textLength="13.79" lengthAdjust="spacingAndGlyphs">50</text>
<text x="116.65" y="327.25" font-size="14" font-weight="normal" font-style="normal" textLength="19.82" lengthAdjust="spacingAndGlyphs">100</text>
<text x="159.90" y="327.60" font-size="14" font-weight="normal" font-style="normal" textLength="19.97" lengthAdjust="spacingAndGlyphs">150</text>
<text x="210.22" y="327.18" font-size="14" font-weight="normal" font-style="normal" textLength="19.70" lengthAdjust="spacingAndGlyphs">200</text>
<text x="253.32" y="327.25" font-size="14" font-weight="normal" font-style="normal" textLength="19.92" lengthAdjust="spacingAndGlyphs">250</text>
<text x="296.28" y="327.39" font-size="14" font-weight="normal" font-style="normal" textLength="19.65" lengthAdjust="spacingAndGlyphs">300</text>
<text x="339.40" y="327.14" font-size="14" font-weight="normal" font-style="normal" textLength="20.38" lengthAdjust="spacingAndGlyphs">350</text>
<text x="434.50" y="327.45" font-size="14" font-weight="normal" font-style="normal" textLength="6.52" lengthAdjust="spacingAndGlyphs">0</text>
<text x="467.05" y="327.87" font-size="14" font-weight="normal" font-style="normal" textLength="14.12" lengthAdjust="spacingAndGlyphs">50</text>
<text x="507.23" y="327.22" font-size="14" font-weight="normal" font-style="normal" textLength="19.97" lengthAdjust="spacingAndGlyphs">100</text>
<text x="550.38" y="327.75" font-size="14" font-weight="normal" font-style="normal" textLength="20.56" lengthAdjust="spacingAndGlyphs">150</text>
<text x="601.03" y="327.40" font-size="14" font-weight="normal" font-style="normal" textLength="19.17" lengthAdjust="spacingAndGlyphs">200</text>
<text x="644.03" y="327.28" font-size="14" font-weight="normal" font-style="normal" textLength="19.33" lengthAdjust="spacingAndGlyphs">250</text>
<text x="686.41" y="327.37" font-size="14" font-weight="normal" font-style="normal" textLength="20.20" lengthAdjust="spacingAndGlyphs">300</text>
<text x="730.28" y="327.84" font-size="14" font-weight="normal" font-style="normal" textLength="19.45" lengthAdjust="spacingAndGlyphs">350</text>
<text x="308.37" y="19.30" font-size="12.3" font-weight="normal" font-style="normal" textLength="41.08" lengthAdjust="spacingAndGlyphs">TGS 813</text>
<text x="699.97" y="19.42" font-size="12.3" font-weight="normal" font-style="normal" textLength="41.17" lengthAdjust="spacingAndGlyphs">TGS 813</text>
<text x="308.34" y="36.86" font-size="12.3" font-weight="normal" font-style="normal" textLength="41.01" lengthAdjust="spacingAndGlyphs">TGS 826</text>
<text x="699.97" y="36.90" font-size="12.3" font-weight="normal" font-style="normal" textLength="41.04" lengthAdjust="spacingAndGlyphs">TGS 826</text>
<text x="308.41" y="53.61" font-size="12.3" font-weight="normal" font-style="normal" textLength="41.16" lengthAdjust="spacingAndGlyphs">TGS 832</text>
<text x="699.97" y="54.39" font-size="12.3" font-weight="normal" font-style="normal" textLength="41.37" lengthAdjust="spacingAndGlyphs">TGS 832</text>
<text x="308.36" y="71.57" font-size="12.3" font-weight="normal" font-style="normal" textLength="41.23" lengthAdjust="spacingAndGlyphs">TGS 880</text>
<text x="699.97" y="71.78" font-size="12.3" font-weight="normal" font-style="normal" textLength="41.16" lengthAdjust="spacingAndGlyphs">TGS 880</text>
<text x="306.71" y="88.43" font-size="12.3" font-weight="normal" font-style="normal" textLength="45.57" lengthAdjust="spacingAndGlyphs">TGS 2602</text>
<text x="698.35" y="88.47" font-size="12.3" font-weight="normal" font-style="normal" textLength="45.65" lengthAdjust="spacingAndGlyphs">TGS 2602</text>
<text x="306.71" y="105.79" font-size="12.3" font-weight="normal" font-style="normal" textLength="45.41" lengthAdjust="spacingAndGlyphs">TGS 2610</text>
<text x="698.36" y="105.93" font-size="12.3" font-weight="normal" font-style="normal" textLength="45.54" lengthAdjust="spacingAndGlyphs">TGS 2610</text>
<text x="305.87" y="123.10" font-size="12.3" font-weight="normal" font-style="normal" textLength="45.23" lengthAdjust="spacingAndGlyphs">TGS 2612</text>
<text x="697.93" y="123.23" font-size="12.3" font-weight="normal" font-style="normal" textLength="45.16" lengthAdjust="spacingAndGlyphs">TGS 2612</text>
<text x="306.38" y="140.05" font-size="12.3" font-weight="normal" font-style="normal" textLength="45.58" lengthAdjust="spacingAndGlyphs">TGS 2620</text>
<text x="697.96" y="140.73" font-size="12.3" font-weight="normal" font-style="normal" textLength="45.73" lengthAdjust="spacingAndGlyphs">TGS 2620</text>
<text x="148.62" y="343.89" font-size="13" font-weight="normal" font-style="normal" textLength="82.31" lengthAdjust="spacingAndGlyphs">Time (Second)</text>
<text x="538.93" y="344.35" font-size="13" font-weight="normal" font-style="normal" textLength="82.65" lengthAdjust="spacingAndGlyphs">Time (Second)</text>
<text x="169.94" y="366.72" font-size="15" font-weight="bold" font-style="normal" textLength="17.79" lengthAdjust="spacingAndGlyphs">(a)</text>
<text x="566.31" y="366.64" font-size="15" font-weight="bold" font-style="normal" textLength="19.83" lengthAdjust="spacingAndGlyphs">(b)</text>
<text x="87.32" y="215.72" font-size="16" font-weight="normal" font-style="italic" textLength="6.96" lengthAdjust="spacingAndGlyphs">v</text>
<text x="94.21" y="217.33" font-size="11.5" font-weight="normal" font-style="italic" textLength="14.64" lengthAdjust="spacingAndGlyphs">n,s</text>
<text x="110.90" y="215.44" font-size="16.5" font-weight="normal" font-style="normal" textLength="35.04" lengthAdjust="spacingAndGlyphs">(130)</text>
<text x="114.20" y="100.84" font-size="16" font-weight="normal" font-style="italic" textLength="6.84" lengthAdjust="spacingAndGlyphs">v</text>
<text x="120.97" y="102.82" font-size="11.5" font-weight="normal" font-style="italic" textLength="14.48" lengthAdjust="spacingAndGlyphs">n,s</text>
<text x="136.95" y="100.10" font-size="16.5" font-weight="normal" font-style="normal" textLength="17.23" lengthAdjust="spacingAndGlyphs">(<tspan font-style="italic">t</tspan>)</text>
<text x="507.48" y="100.91" font-size="16" font-weight="normal" font-style="italic" textLength="6.49" lengthAdjust="spacingAndGlyphs">v</text>
<text x="514.25" y="103.31" font-size="11.5" font-weight="normal" font-style="italic" textLength="21.96" lengthAdjust="spacingAndGlyphs">n,s,r</text>
<text x="538.37" y="100.27" font-size="16.5" font-weight="normal" font-style="normal" textLength="17.83" lengthAdjust="spacingAndGlyphs">(<tspan font-style="italic">t</tspan>)</text>
<g font-size="13"><text transform="translate(12.5,202.5) rotate(-90)" x="0" y="0" textLength="80" lengthAdjust="spacingAndGlyphs">Voltage (Volt)</text>
<text transform="translate(403.2,201.1) rotate(-90)" x="0" y="0" textLength="79.8" lengthAdjust="spacingAndGlyphs">Voltage (Volt)</text></g>


</g>
</svg>
</body></html>
